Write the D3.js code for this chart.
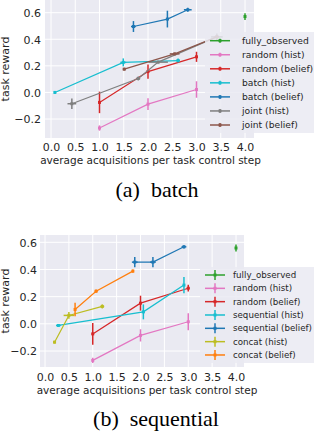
<!DOCTYPE html>
<html>
<head>
<meta charset="utf-8">
<script src="https://cdn.jsdelivr.net/npm/d3@7"></script>
<style>
    body { margin: 0; background: #fff; }
    svg { display: block; }
    text { font-family: "DejaVu Sans", sans-serif; fill: #262626; }
    .caption { font-family: "Liberation Serif", "Times New Roman", serif; fill: #000; }
</style>
</head>
<body>
<div id="chart"></div>
<script>

// ---------- data: (a) batch ----------
var batchNames = ["fully_observed", "random (hist)", "random (belief)", "batch (hist)", "batch (belief)", "joint (hist)", "joint (belief)"];
var batchX    = [[4.0], [1.0, 2.0, 3.0], [1.0, 2.0, 3.0], [0.08, 1.49, 2.62], [1.70, 2.40, 2.82], [0.43, 1.80, 2.21, 3.42], [1.51, 2.55, 3.42]];
var batchY    = [[0.571], [-0.268, -0.088, 0.022], [-0.075, 0.157, 0.268], [0.0, 0.226, 0.24], [0.496, 0.552, 0.622], [-0.085, 0.105, 0.228, 0.418], [0.175, 0.29, 0.418]];
var batchXErr = [[0.01], [0.02, 0.02, 0.02], [0.02, 0.02, 0.02], [0.02, 0.06, 0.04], [0.05, 0.03, 0.08], [0.09, 0.04, 0.2, 0.12], [0.03, 0.1, 0.05]];
var batchYErr = [[0.025], [0.02, 0.045, 0.062], [0.081, 0.054, 0.038], [0.01, 0.03, 0.015], [0.041, 0.063, 0.015], [0.04, 0.015, 0.01, 0.025], [0.01, 0.01, 0.01]];

// ---------- data: (b) sequential ----------
var seqNames = ["fully_observed", "random (hist)", "random (belief)", "sequential (hist)", "sequential (belief)", "concat (hist)", "concat (belief)"];
var seqX    = [[4.0], [1.0, 2.0, 3.0], [1.0, 2.0, 3.0], [0.28, 2.06, 2.91], [1.88, 2.26, 2.91], [0.2, 0.5, 1.2], [0.63, 1.07, 1.84]];
var seqY    = [[0.558], [-0.269, -0.085, 0.015], [-0.074, 0.152, 0.262], [-0.012, 0.088, 0.285], [0.454, 0.454, 0.567], [-0.135, 0.062, 0.128], [0.106, 0.24, 0.388]];
var seqXErr = [[0.01], [0.02, 0.02, 0.02], [0.02, 0.02, 0.03], [0.05, 0.03, 0.02], [0.06, 0.06, 0.05], [0.02, 0.11, 0.04], [0.02, 0.03, 0.02]];
var seqYErr = [[0.025], [0.02, 0.045, 0.063], [0.08, 0.055, 0.025], [0.01, 0.055, 0.06], [0.037, 0.037, 0.012], [0.01, 0.025, 0.015], [0.05, 0.012, 0.012]];

// tick labels and captions
var xTicks = [0.0, 0.5, 1.0, 1.5, 2.0, 2.5, 3.0, 3.5, 4.0];
var yTicks = [-0.2, 0.0, 0.2, 0.4, 0.6];
var xLabel = "average acquisitions per task control step";
var yLabel = "task reward";

// colours (matplotlib tab10)
var batchColors = ["#2ca02c", "#e377c2", "#d62728", "#17becf", "#1f77b4", "#7f7f7f", "#8c564b"];
var seqColors   = ["#2ca02c", "#e377c2", "#d62728", "#17becf", "#1f77b4", "#bcbd22", "#ff7f0e"];


var svg = d3.select("#chart").append("svg")
    .attr("width", 314)
    .attr("height", 434);


/*
 * ErrorPanel - one errorbar plot with its legend and caption
 */

ErrorPanel = function(_svg, _layout, _names, _x, _y, _xerr, _yerr, _colors, _caption){
    this.svg = _svg;
    this.layout = _layout;
    this.names = _names;
    this.colors = _colors;
    this.caption = _caption;

    // build one array of points for each series
    this.displayData = _names.map(function(name, i) {
        return _x[i].map(function(xv, j) {
            return { x: xv, y: _y[i][j], xerr: _xerr[i][j], yerr: _yerr[i][j] };
        });
    });

    this.initVis();
};


ErrorPanel.prototype.initVis = function(){
    var vis = this;
    var L = vis.layout;

    vis.g = vis.svg.append("g");

    vis.x = d3.scaleLinear().domain([0, 4]).range([L.x0, L.x4]);
    vis.y = d3.scaleLinear().domain([-0.2, 0.6]).range([L.yLow, L.yHigh]);

    // background
    vis.g.append("rect")
        .attr("x", L.left)
        .attr("y", L.top)
        .attr("width", L.right - L.left)
        .attr("height", L.bottom - L.top)
        .attr("fill", "#eaeaf2");

    // grid
    vis.g.selectAll(".vgrid")
        .data(xTicks)
        .enter().append("line")
        .attr("x1", function(d) { return vis.x(d); })
        .attr("x2", function(d) { return vis.x(d); })
        .attr("y1", L.top)
        .attr("y2", L.bottom)
        .attr("stroke", "#fff")
        .attr("stroke-width", 1);

    vis.g.selectAll(".hgrid")
        .data(yTicks)
        .enter().append("line")
        .attr("x1", L.left)
        .attr("x2", L.right)
        .attr("y1", function(d) { return vis.y(d); })
        .attr("y2", function(d) { return vis.y(d); })
        .attr("stroke", "#fff")
        .attr("stroke-width", 1);

    // axes (labels only, seaborn style)
    var xAxis = d3.axisBottom(vis.x)
        .tickValues(xTicks)
        .tickSize(0)
        .tickPadding(0)
        .tickFormat(d3.format(".1f"));

    var yAxis = d3.axisLeft(vis.y)
        .tickValues(yTicks)
        .tickSize(0)
        .tickPadding(0)
        .tickFormat(function(d) { return d3.format(".1f")(d).replace("-", "\u2212"); });

    var xg = vis.g.append("g")
        .attr("transform", "translate(0," + L.xTickY + ")")
        .call(xAxis);
    xg.select(".domain").remove();
    xg.selectAll("text")
        .attr("dy", 0)
        .attr("y", 0)
        .style("font-size", "11px")
        .style("font-family", "DejaVu Sans")
        .attr("fill", "#262626");

    var yg = vis.g.append("g")
        .attr("transform", "translate(" + L.yTickX + ",0)")
        .call(yAxis);
    yg.select(".domain").remove();
    yg.selectAll("text")
        .attr("dy", "0.35em")
        .style("font-size", "11px")
        .style("font-family", "DejaVu Sans")
        .attr("fill", "#262626");

    vis.g.append("text")
        .attr("x", (L.left + L.right) / 2 + L.xLabelShift)
        .attr("y", L.xLabelY)
        .attr("text-anchor", "middle")
        .style("font-size", "10.5px")
        .text(xLabel);

    vis.g.append("text")
        .attr("transform", "translate(" + L.yLabelX + "," + (L.top + L.bottom) / 2 + ") rotate(-90)")
        .attr("text-anchor", "middle")
        .style("font-size", "11px")
        .text(yLabel);

    vis.g.append("text")
        .attr("class", "caption")
        .attr("x", L.captionX)
        .attr("y", L.captionY)
        .attr("text-anchor", "middle")
        .style("font-size", "22px")
        .text(vis.caption);

    vis.updateVis();
};


ErrorPanel.prototype.updateVis = function(){
    var vis = this;
    var L = vis.layout;

    vis.line = d3.line()
        .x(function(d) { return vis.x(d.x); })
        .y(function(d) { return vis.y(d.y); });

    var series = vis.g.selectAll(".series")
        .data(vis.displayData)
        .enter()
        .append("g")
        .attr("class", "series");

    series.append("path")
        .attr("d", function(d) { return vis.line(d); })
        .attr("fill", "none")
        .attr("stroke", function(d, i) { return vis.colors[i]; })
        .attr("stroke-width", 1.2);

    series.each(function(d, i) {
        var s = d3.select(this);
        var c = vis.colors[i];

        s.selectAll(".ey").data(d).enter().append("line")
            .attr("x1", function(p) { return vis.x(p.x); })
            .attr("x2", function(p) { return vis.x(p.x); })
            .attr("y1", function(p) { return vis.y(p.y - p.yerr); })
            .attr("y2", function(p) { return vis.y(p.y + p.yerr); })
            .attr("stroke", c)
            .attr("stroke-width", 1.5);

        s.selectAll(".ex").data(d).enter().append("line")
            .attr("x1", function(p) { return vis.x(p.x - p.xerr); })
            .attr("x2", function(p) { return vis.x(p.x + p.xerr); })
            .attr("y1", function(p) { return vis.y(p.y); })
            .attr("y2", function(p) { return vis.y(p.y); })
            .attr("stroke", c)
            .attr("stroke-width", 1.5);

        s.selectAll(".pt").data(d).enter().append("rect")
            .attr("x", function(p) { return vis.x(p.x) - 1.5; })
            .attr("y", function(p) { return vis.y(p.y) - 1.5; })
            .attr("width", 3)
            .attr("height", 3)
            .attr("fill", c);
    });

    // legend
    var lg = vis.g.append("g");
    lg.append("rect")
        .attr("x", L.legX)
        .attr("y", L.legY)
        .attr("width", L.legW)
        .attr("height", L.legH)
        .attr("rx", 2)
        .attr("fill", "#eaeaf2")
        .attr("fill-opacity", 0.85);

    var items = lg.selectAll(".item")
        .data(vis.names)
        .enter().append("g")
        .attr("transform", function(d, i) {
            return "translate(" + (L.legX + 5) + "," + (L.legRow0 + i * L.legStep) + ")";
        });

    items.append("line")
        .attr("x1", 0).attr("x2", 20)
        .attr("stroke", function(d, i) { return vis.colors[i]; })
        .attr("stroke-width", 1.5);

    items.append("line")
        .attr("x1", 10).attr("x2", 10)
        .attr("y1", -L.legBar).attr("y2", L.legBar)
        .attr("stroke", function(d, i) { return vis.colors[i]; })
        .attr("stroke-width", 1.5);

    items.append("rect")
        .attr("x", 8.5).attr("y", -1.5)
        .attr("width", 3).attr("height", 3)
        .attr("fill", function(d, i) { return vis.colors[i]; });

    items.append("text")
        .attr("x", L.legText)
        .attr("dy", "0.35em")
        .style("font-size", L.legFont + "px")
        .attr("fill", "#333")
        .text(function(d) { return d; });
};


var batchPanel = new ErrorPanel(svg, {
    left: 45, right: 254, top: 0, bottom: 138,
    x0: 51, x4: 245, yLow: 119, yHigh: 12.7,
    xTickY: 151, yTickX: 41, xLabelY: 164, xLabelShift: 1, yLabelX: 9,
    captionX: 157, captionY: 197,
    legX: 205, legY: 32, legW: 112, legH: 101, legRow0: 40.7, legStep: 14.05, legText: 32, legBar: 2, legFont: 9.2
}, batchNames, batchX, batchY, batchXErr, batchYErr, batchColors, "(a)\u2002batch");

var seqPanel = new ErrorPanel(svg, {
    left: 40, right: 244, top: 235, bottom: 367,
    x0: 45, x4: 236, yLow: 351, yHigh: 242.3,
    xTickY: 381, yTickX: 37, xLabelY: 394, xLabelShift: 5, yLabelX: 9,
    captionX: 156, captionY: 426,
    legX: 200, legY: 267, legW: 117, legH: 96, legRow0: 275, legStep: 13.33, legText: 28, legBar: 5, legFont: 8.7
}, seqNames, seqX, seqY, seqXErr, seqYErr, seqColors, "(b)\u2002sequential");

</script>
</body>
</html>
